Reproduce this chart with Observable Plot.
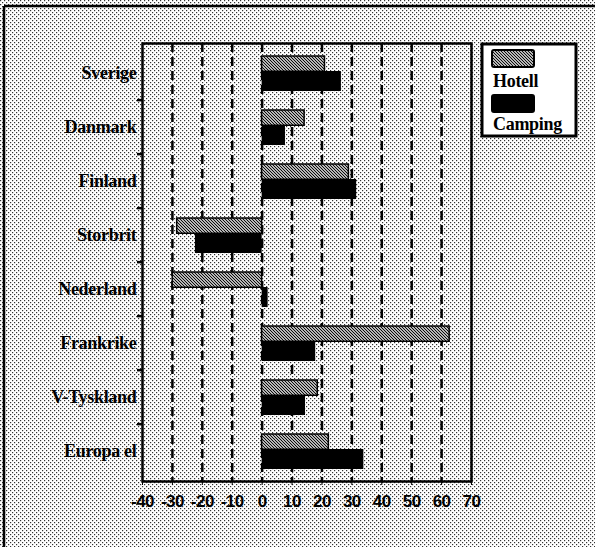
<!DOCTYPE html>
<html><head><meta charset="utf-8">
<script src="https://cdn.jsdelivr.net/npm/d3@7"></script>
<script src="https://cdn.jsdelivr.net/npm/@observablehq/plot@0.6"></script>
<style>
body{margin:0;background:#fff;}
#wrap{position:relative;width:595px;height:547px;overflow:hidden;}
#wrap svg{position:absolute;left:0;top:0;}
g[aria-label^="x-axis"] text{font-family:"Liberation Sans",Arial,sans-serif !important;font-size:17px !important;font-weight:bold;fill:#000;letter-spacing:-0.5px;}
g[aria-label^="y-axis"] text{font-family:"Liberation Serif","DejaVu Serif","Times New Roman",Times,serif !important;font-size:18px !important;font-weight:bold;fill:#000;letter-spacing:-0.3px;}
</style></head><body><div id="wrap"></div>
<script>
const countries = ["Sverige","Danmark","Finland","Storbrit","Nederland","Frankrike","V-Tyskland","Europa el"];
const hotell  = [21, 14.2, 29, -28.4, -29.9, 62.7, 18.6, 22.3];
const camping = [26.5, 7.8, 31.6, -22.3, 2.0, 17.9, 14.5, 34];
const xTicks = [-40,-30,-20,-10,0,10,20,30,40,50,60,70];
const gridTicks = [-30,-20,-10,0,10,20,30,40,50,60];
const seriesNames = ["Hotell","Camping"];

const rows = countries.map((c,i)=>({country:c, hotell:hotell[i], camping:camping[i]}));
const W = 595, H = 547;
const mT = 43, mB = 66, mL = 142, mR = 124;
const bw = (H - mT - mB) / countries.length;

const plot = Plot.plot({
  width: W, height: H,
  marginLeft: mL, marginRight: mR, marginTop: mT, marginBottom: mB,
  style: {background: "transparent", color: "black", overflow: "visible"},
  x: {domain: [-40, 70], ticks: xTicks, tickFormat: d => String(d), tickSize: 4, tickPadding: 9, label: null},
  y: {domain: countries, padding: 0, tickSize: 0, tickPadding: 6, label: null},
  marks: [
    Plot.ruleX(gridTicks, {x: d => d, stroke: "black", strokeWidth: 2.5, strokeDasharray: "9,5"}),
    Plot.barX(rows, {y: "country", x1: 0, x2: "hotell", fill: "url(#hatch)", stroke: "black", strokeWidth: 1.5, insetTop: 10, insetBottom: bw - 26}),
    Plot.barX(rows, {y: "country", x1: 0, x2: "camping", fill: "black", insetTop: 25, insetBottom: 9}),
    Plot.ruleY(countries.slice(1), {y: d => d, dy: -bw / 2, x1: -40, x2: -40, insetLeft: -5, stroke: "black", strokeWidth: 2.5}),
    Plot.frame({stroke: "black", strokeWidth: 2.5})
  ]
});

const svg = d3.select(plot);
svg.insert("rect", ":first-child").attr("width", W).attr("height", H).attr("fill", "url(#dots)");
const defs = svg.insert("defs", ":first-child");
const pd = defs.append("pattern").attr("id", "dots").attr("patternUnits", "userSpaceOnUse").attr("width", 4).attr("height", 4);
pd.append("rect").attr("width", 4).attr("height", 4).attr("fill", "#fff");
pd.append("rect").attr("x", 0).attr("y", 0).attr("width", 1.2).attr("height", 1.2).attr("fill", "#333");
pd.append("rect").attr("x", 2).attr("y", 2).attr("width", 1.2).attr("height", 1.2).attr("fill", "#333");
const ph = defs.append("pattern").attr("id", "hatch").attr("patternUnits", "userSpaceOnUse").attr("width", 3).attr("height", 3);
ph.append("rect").attr("width", 3).attr("height", 3).attr("fill", "#fff");
ph.append("path").attr("d", "M-1,-1L4,4M-1,2L1,4M2,-1L4,1").attr("stroke", "#000").attr("stroke-width", 1.1);

const wrap = document.getElementById("wrap");
wrap.appendChild(plot);

// outer frame lines (top and left) and legend overlay
const ov = d3.select(wrap).append("svg").attr("width", W).attr("height", H);
ov.append("line").attr("x1", 4).attr("x2", W).attr("y1", 6).attr("y2", 6).attr("stroke", "#000").attr("stroke-width", 2.5);
ov.append("line").attr("x1", 4).attr("x2", 4).attr("y1", 6).attr("y2", H).attr("stroke", "#000").attr("stroke-width", 2.5);
const lg = ov.append("g");
lg.append("rect").attr("x", 482).attr("y", 44).attr("width", 94).attr("height", 92).attr("fill", "#fff").attr("stroke", "#000").attr("stroke-width", 3);
const swFill = ["url(#hatch)", "#000"];
seriesNames.forEach((s, i) => {
  lg.append("rect").attr("x", 492).attr("y", 50 + i * 45).attr("width", 42).attr("height", 17).attr("rx", 2)
    .attr("fill", swFill[i]).attr("stroke", "#000").attr("stroke-width", 2);
  lg.append("text").attr("x", 493).attr("y", 87 + i * 43)
    .attr("font-family", "'Liberation Serif','DejaVu Serif','Times New Roman',Times,serif")
    .attr("font-size", 18).attr("font-weight", "bold").attr("fill", "#000")
    .style("letter-spacing", "-0.3px")
    .text(s);
});
</script></body></html>
